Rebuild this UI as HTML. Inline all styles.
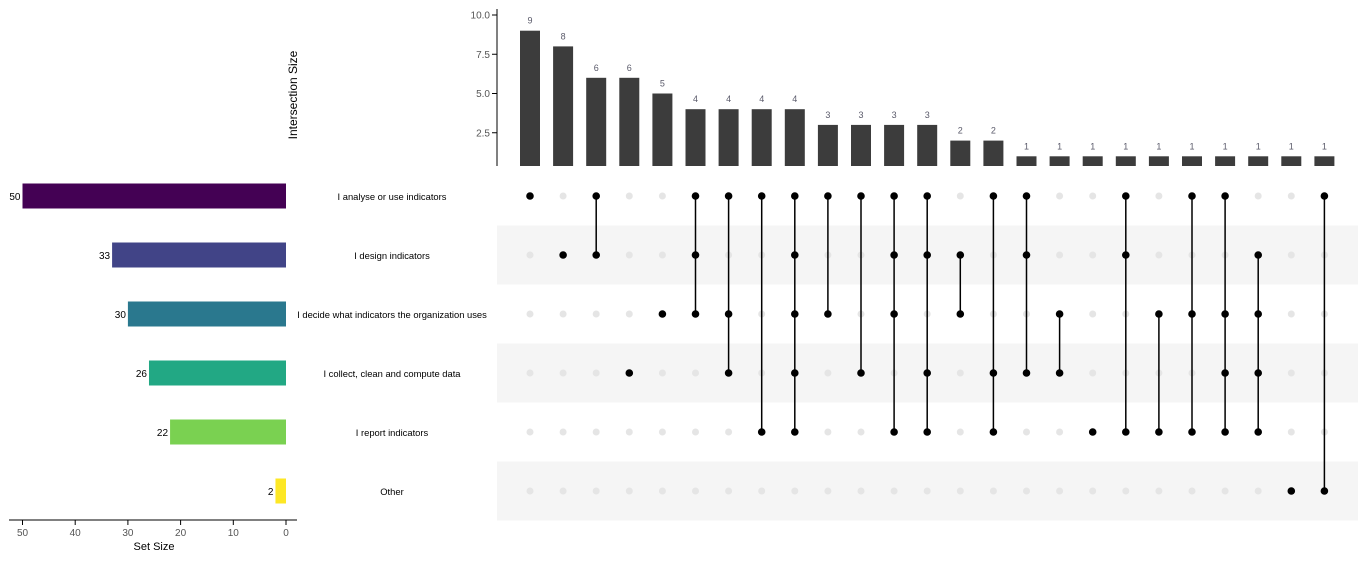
<!DOCTYPE html>
<html><head><meta charset="utf-8"><style>
body{margin:0;background:#fff;font-family:"Liberation Sans",Arial,sans-serif}
svg text{font-family:"Liberation Sans",Arial,sans-serif}
</style></head><body>
<svg id="c" width="1368" height="561" viewBox="0 0 1368 561"></svg>
<script>
const setNames=["I analyse or use indicators","I design indicators","I decide what indicators the organization uses","I collect, clean and compute data","I report indicators","Other"];
const setSizes=[50,33,30,26,22,2];
const setColors=["#440154","#414487","#2a788e","#22a884","#7ad151","#fde725"];
const interSizes=[9,8,6,6,5,4,4,4,4,3,3,3,3,2,2,1,1,1,1,1,1,1,1,1,1];
const interMembers=[[0],[1],[0,1],[3],[2],[0,1,2],[0,2,3],[0,4],[0,1,2,3,4],[0,2],[0,3],[0,1,2,4],[0,1,3,4],[1,2],[0,3,4],[0,1,3],[2,3],[4],[0,1,4],[2,4],[0,2,4],[0,2,3,4],[1,2,3,4],[5],[0,5]];
const yTicks=[2.5,5,7.5,10];
const xTicks=[50,40,30,20,10,0];

const svg=document.getElementById('c');
const NS="http://www.w3.org/2000/svg";
function mk(t,a,p){const e=document.createElementNS(NS,t);for(const k in a)e.setAttribute(k,a[k]);(p||svg).appendChild(e);return e;}
const colX=i=>530+i*33.1;
const rowY=j=>196+j*59;
const yS=v=>172-v*15.7;
const xS=v=>286-v*5.27;

for(let j=0;j<6;j++){if(j%2==1){const r=mk('rect',{x:497,y:rowY(j)-29.5,width:861,height:59,fill:'#f5f5f5'});

}}

let ax=mk('line',{x1:497,y1:9,x2:497,y2:166,stroke:'#000','stroke-width':1});


yTicks.forEach(t=>{mk('line',{x1:492,x2:497,y1:yS(t),y2:yS(t),stroke:'#000'});
const tx=mk('text',{x:490,y:yS(t)+3.5,'text-anchor':'end','font-size':10,fill:'#555'});tx.textContent=t.toFixed(1);

});
let yt=mk('text',{x:297,y:95,'text-anchor':'middle','font-size':12,fill:'#000',transform:'rotate(-90 297 95)'});yt.textContent='Intersection Size';



interSizes.forEach((v,i)=>{const x=colX(i);const top=yS(v);
const b=mk('rect',{x:x-10,y:top,width:20,height:166-top,fill:'#3c3c3c'});


const l=mk('text',{x:x,y:top-7,'text-anchor':'middle','font-size':9,fill:'#5a5a6a'});l.textContent=v;

});

interMembers.forEach((m,i)=>{const x=colX(i);
for(let j=0;j<6;j++){if(!m.includes(j)){const d=mk('circle',{cx:x,cy:rowY(j),r:3.5,fill:'#e5e5e5'});

}}
if(m.length>1){const ln=mk('line',{x1:x,x2:x,y1:rowY(Math.min(...m)),y2:rowY(Math.max(...m)),stroke:'#000','stroke-width':1.5});

}
m.forEach(j=>{const d=mk('circle',{cx:x,cy:rowY(j),r:3.8,fill:'#000'});

});});

setNames.forEach((n,j)=>{const t=mk('text',{x:392,y:rowY(j)+4,'text-anchor':'middle','font-size':9.4,fill:'#000'});t.textContent=n;


const v=setSizes[j];const b=mk('rect',{x:xS(v),y:rowY(j)-12.5,width:286-xS(v),height:25,fill:setColors[j]});


const l=mk('text',{x:xS(v)-2,y:rowY(j)+4,'text-anchor':'end','font-size':10,fill:'#000'});l.textContent=v;

});

let bx=mk('line',{x1:9,x2:297,y1:520,y2:520,stroke:'#000','stroke-width':1});


xTicks.forEach(t=>{mk('line',{x1:xS(t),x2:xS(t),y1:520,y2:525,stroke:'#000'});
const tx=mk('text',{x:xS(t),y:536,'text-anchor':'middle','font-size':10,fill:'#555'});tx.textContent=t;

});
let xt=mk('text',{x:154,y:550,'text-anchor':'middle','font-size':11,fill:'#000'});xt.textContent='Set Size';


</script>
</body></html>
